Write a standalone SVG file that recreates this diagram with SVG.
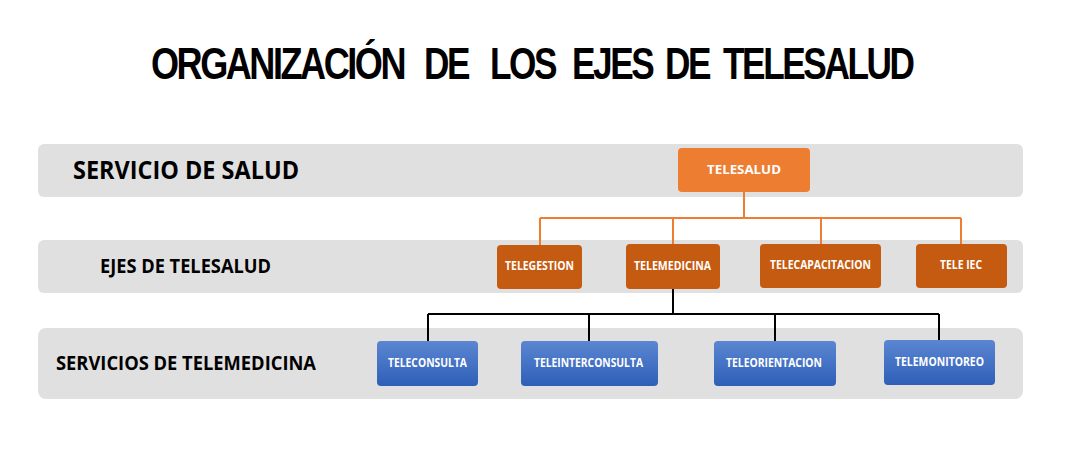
<svg xmlns="http://www.w3.org/2000/svg" width="1065" height="455" viewBox="0 0 1065 455">
<style>
.band{fill:#e0e0e0}
.lbl{font-family:"Open Sans","Noto Sans","Liberation Sans",sans-serif;font-weight:bold;fill:#000}
.bt{font-family:"Open Sans","Noto Sans","Liberation Sans",sans-serif;font-weight:bold;fill:#fff;font-size:11.5px;text-anchor:middle}
.top{fill:#ed7d31}
.eje{fill:#c55a11}
.svc{fill:url(#blue)}
.oc{fill:none;stroke:#ed7d31;stroke-width:2}
.bc{fill:none;stroke:#000;stroke-width:2}
.title{font-family:"Liberation Sans",Arial,sans-serif;font-weight:bold;font-size:44px;fill:#000;letter-spacing:-3px}
</style>
<defs>
<linearGradient id="blue" x1="0" y1="0" x2="0" y2="1">
<stop offset="0" stop-color="#5b86d1"/>
<stop offset="1" stop-color="#2e5fb8"/>
</linearGradient>
</defs>
<rect width="1065" height="455" fill="#fff"/>
<g id="title" class="title">
<text transform="translate(151 79) scale(0.82 1)">ORGANIZACIÓN</text>
<text transform="translate(424 79) scale(0.8 1)">DE</text>
<text transform="translate(490 79) scale(0.8 1)">LOS</text>
<text transform="translate(572 79) scale(0.8 1)">EJES</text>
<text transform="translate(665 79) scale(0.8 1)">DE</text>
<text transform="translate(723 79) scale(0.8 1)">TELESALUD</text>
</g>

<g id="band-servicio">
<rect class="band" x="38" y="144" width="985" height="53" rx="6"/>
<text class="lbl" x="73" y="179" font-size="25" textLength="226" lengthAdjust="spacingAndGlyphs">SERVICIO DE SALUD</text>
</g>
<g id="band-ejes">
<rect class="band" x="38" y="240" width="985" height="53" rx="6"/>
<text class="lbl" x="100" y="273" font-size="20" textLength="171" lengthAdjust="spacingAndGlyphs">EJES DE TELESALUD</text>
</g>
<g id="band-servicios">
<rect class="band" x="38" y="328" width="985" height="71" rx="8"/>
<text class="lbl" x="56" y="370" font-size="20" textLength="260" lengthAdjust="spacingAndGlyphs">SERVICIOS DE TELEMEDICINA</text>
</g>

<g id="connectors">
<path class="oc" d="M744 192V218M540 218H961M540 218V245M673 218V244M821 218V244M961 218V244"/>
<path class="bc" d="M673 289V314M428 314H939M428 314V341M589 314V341M775 314V341M939 314V340"/>
</g>

<g id="telesalud">
<rect class="top" x="678" y="148" width="132" height="44" rx="4"/>
<text class="bt" x="744" y="174" font-size="12.5" textLength="74" lengthAdjust="spacingAndGlyphs">TELESALUD</text>
</g>
<g id="telegestion">
<rect class="eje" x="497" y="245" width="85" height="44" rx="4"/>
<text class="bt" x="539.5" y="270" textLength="69" lengthAdjust="spacingAndGlyphs">TELEGESTION</text>
</g>
<g id="telemedicina">
<rect class="eje" x="626" y="244" width="94" height="45" rx="4"/>
<text class="bt" x="672.5" y="270" textLength="77" lengthAdjust="spacingAndGlyphs">TELEMEDICINA</text>
</g>
<g id="telecapacitacion">
<rect class="eje" x="760" y="244" width="121" height="44" rx="4"/>
<text class="bt" x="820.5" y="269" textLength="101" lengthAdjust="spacingAndGlyphs">TELECAPACITACION</text>
</g>
<g id="teleiec">
<rect class="eje" x="916" y="244" width="91" height="44" rx="4"/>
<text class="bt" x="961" y="269" textLength="42" lengthAdjust="spacingAndGlyphs">TELE IEC</text>
</g>

<g id="teleconsulta">
<rect class="svc" x="377" y="341" width="101" height="45" rx="4"/>
<text class="bt" x="427.5" y="367" textLength="79" lengthAdjust="spacingAndGlyphs">TELECONSULTA</text>
</g>
<g id="teleinterconsulta">
<rect class="svc" x="521" y="341" width="137" height="45" rx="4"/>
<text class="bt" x="588.5" y="367" textLength="109" lengthAdjust="spacingAndGlyphs">TELEINTERCONSULTA</text>
</g>
<g id="teleorientacion">
<rect class="svc" x="714" y="341" width="122" height="45" rx="4"/>
<text class="bt" x="774" y="367" textLength="96" lengthAdjust="spacingAndGlyphs">TELEORIENTACION</text>
</g>
<g id="telemonitoreo">
<rect class="svc" x="884" y="340" width="111" height="45" rx="4"/>
<text class="bt" x="939.5" y="366" textLength="89" lengthAdjust="spacingAndGlyphs">TELEMONITOREO</text>
</g>
</svg>
